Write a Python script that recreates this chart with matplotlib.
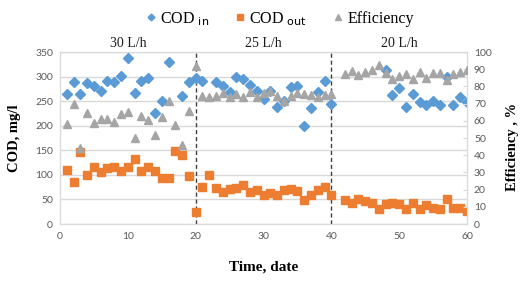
import numpy as np
import matplotlib
matplotlib.use("Agg")
import matplotlib.pyplot as plt
import matplotlib.transforms as mtransforms

# day index and measured values (NaN = not shown / off scale)
days = list(range(1, 61))

cod_in = [265, 288, 264, 286, 281, 271, 290, 288, 301, 338,
          267, 292, 298, 226, 250, 330, np.nan, 260, 289, 297,
          291, np.nan, 288, 280, 268, 300, 295, 282, 270, 254,
          271, 239, 250, 278, 281, 200, 236, 268, 292, 244,
          np.nan, np.nan, np.nan, np.nan, np.nan, np.nan, np.nan, 313, 262, 277,
          239, 265, 248, 243, 250, 243, 299, 243, 259, 248]

cod_out = [110, 86, 147, 100, 115, 105, 113, 116, 107, 117,
           133, 107, 117, 108, 94, 94, 149, 140, 98, 25,
           75, 99, 74, 66, 71, 74, 79, 66, 70, 60,
           64, 60, 70, 71, 67, 49, 60, 70, 76, 58,
           np.nan, 48, 43, 51, 46, 43, 31, 41, 43, 41,
           31, 43, 31, 38, 33, 31, 51, 33, 33, 27]

efficiency = [58.3, 69.5, 44.3, 64.7, 58.6, 61.2, 60.8, 59.4, 63.7, 64.9,
              50.1, 62.9, 60.6, 51.8, 62.1, 71.7, 57.7, 45.8, 65.6, 91.7,
              74.4, 73.6, 74.6, 76.4, 73.6, 75.6, 73.8, 76.9, 73.6, 76.3,
              77.3, 74.4, 71.8, 74.4, 76.0, 75.6, 75.0, 73.8, 74.8, 75.6,
              np.nan, 87.2, 89.0, 86.8, 88.4, 89.5, 92.3, 87.6, 84.1, 85.9,
              87.0, 84.5, 88.2, 84.7, 87.8, 87.8, 83.5, 87.4, 88.2, 89.7]

flow_labels = ["30 L/h", "25 L/h", "20 L/h"]
flow_centers = [10, 30, 50]
flow_breaks = [20, 40]

c_in = "#5B9BD5"
c_out = "#ED7D31"
c_eff = "#A5A5A5"
grid_c = "#D9D9D9"
tick_c = "#595959"
serif = "Liberation Serif"
sans = "Lato"

fig = plt.figure(figsize=(5.25, 2.87), dpi=100)
ax = fig.add_axes([60 / 525, 63 / 287, 407 / 525, 172 / 287])
ax2 = ax.twinx()

ax.plot(days, cod_in, linestyle="none", marker="D", markersize=4.6,
        color=c_in, label="COD $_{\\mathsf{in}}$", zorder=3)
ax.plot(days, cod_out, linestyle="none", marker="s", markersize=5.2,
        color=c_out, label="COD $_{\\mathsf{out}}$", zorder=3)
ax2.plot(days, efficiency, linestyle="none", marker="^", markersize=5.2,
         color=c_eff, label="Efficiency", zorder=3)

for b in flow_breaks:
    ax.axvline(b, color="#404040", linestyle=(0, (3, 2)), linewidth=1.0, zorder=2)

ax.set_xlim(0, 60)
ax.set_ylim(0, 350)
ax2.set_ylim(0, 100)
ax.set_xticks(np.arange(0, 61, 10))
ax.set_yticks(np.arange(0, 351, 50))
ax2.set_yticks(np.arange(0, 101, 10))

ax.yaxis.grid(True, color=grid_c, linewidth=1.0)
ax.set_axisbelow(True)

for a in (ax, ax2):
    for s in a.spines.values():
        s.set_color(grid_c)
    a.tick_params(labelsize=7.5, labelcolor=tick_c, colors=grid_c, length=0)
    for lab in a.get_xticklabels() + a.get_yticklabels():
        lab.set_fontfamily(sans)
ax2.tick_params(axis="y", length=3, direction="in", colors=grid_c, labelcolor=tick_c)
ax.tick_params(axis="x", pad=6)
ax.tick_params(axis="y", pad=5)
ax2.tick_params(axis="y", pad=5)

ax.set_xlabel("Time, date", fontsize=11, fontweight="bold", family=serif, labelpad=14)
ax.set_ylabel("COD, mg/l", fontsize=10.5, fontweight="bold", family=serif, labelpad=10)
ax2.set_ylabel("Efficiency , %", fontsize=10.5, fontweight="bold", family=serif, labelpad=8)
ax2.yaxis.set_label_coords(1.095, 0.45)

trans = mtransforms.blended_transform_factory(ax.transData, ax.transAxes)
for lab, xc in zip(flow_labels, flow_centers):
    ax.text(xc, 1.01, lab, transform=trans, ha="center", va="bottom",
            fontsize=10, family=serif, color="#1a1a1a")

h1, l1 = ax.get_legend_handles_labels()
h2, l2 = ax2.get_legend_handles_labels()
leg = fig.legend(h1 + h2, l1 + l2, loc="center", bbox_to_anchor=(0.53, 0.935),
                 ncol=3, frameon=False, handletextpad=0.1, columnspacing=1.4,
                 handlelength=1.0, markerscale=0.75,
                 prop={"family": serif, "size": 11.5})

fig.savefig("out.png", dpi=100)
